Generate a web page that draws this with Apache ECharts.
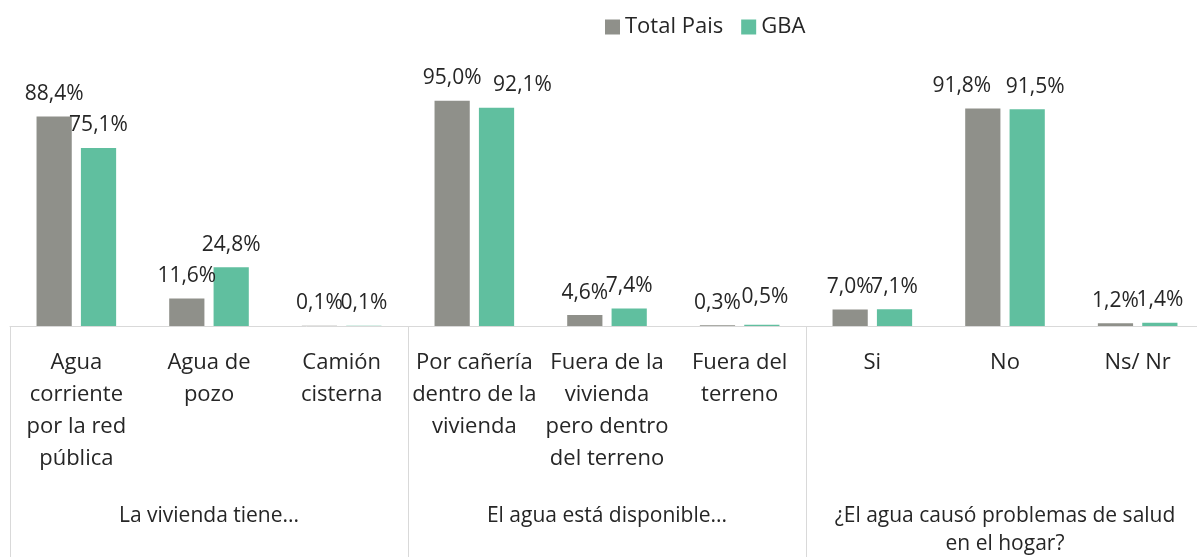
<!DOCTYPE html>
<html>
<head>
<meta charset="utf-8">
<script src="https://cdn.jsdelivr.net/npm/echarts@6/dist/echarts.min.js"></script>
<style>
  html, body { margin: 0; padding: 0; background: #fff; }
  #chart { width: 1197px; height: 557px; }
</style>
</head>
<body>
<div id="chart"></div>
<script>
// categories (sub level) and groups (top level)
var categories = [
  'Agua\ncorriente\npor la red\npública',
  'Agua de\npozo',
  'Camión\ncisterna',
  'Por cañería\ndentro de la\nvivienda',
  'Fuera de la\nvivienda\npero dentro\ndel terreno',
  'Fuera del\nterreno',
  'Si',
  'No',
  'Ns/ Nr'
];
var groups = [
  'La vivienda tiene...',
  'El agua está disponible...',
  '¿El agua causó problemas de salud\nen el hogar?'
];
var totalPais = [88.4, 11.6, 0.1, 95.0, 4.6, 0.3, 7.0, 91.8, 1.2];
var gba = [75.1, 24.8, 0.1, 92.1, 7.4, 0.5, 7.1, 91.5, 1.4];

var FONT = "'Open Sans', 'DejaVu Sans', sans-serif";
var TXT = '#262626';
var LINE = '#d9d9d9';

// labels that were nudged sideways in the original to avoid overlap
var totalLabelShift = { 7: [-21, 0] };
var gbaLabelShift = { 3: [26, 0], 5: [3, -5], 7: [8, 0] };

function pct(p) {
  return p.value.toFixed(1).replace('.', ',') + '%';
}

function withShift(values, shifts) {
  return values.map(function (v, i) {
    if (shifts[i]) return { value: v, label: { offset: shifts[i] } };
    return v;
  });
}

var chart = echarts.init(document.getElementById('chart'));

var barLabel = {
  show: true,
  position: 'top',
  distance: 12,
  fontFamily: FONT,
  fontSize: 21,
  color: TXT,
  formatter: pct
};

var option = {
  animation: false,
  textStyle: { fontFamily: FONT },
  color: ['#8f908a', '#60bf9f'],
  legend: {
    left: 600,
    top: 11,
    icon: 'rect',
    itemWidth: 15,
    itemHeight: 15,
    itemGap: 18,
    textStyle: { fontFamily: FONT, fontSize: 22, color: TXT },
    data: ['Total Pais', 'GBA']
  },
  grid: {
    left: 10, width: 1194, top: 89, bottom: 231,
    containLabel: false, outerBoundsMode: 'none'
  },
  xAxis: [
    {
      type: 'category',
      data: categories,
      position: 'bottom',
      axisLine: { show: true, lineStyle: { color: LINE, width: 1 } },
      axisTick: { show: false },
      axisLabel: {
        interval: 0,
        margin: 21,
        fontFamily: FONT,
        fontSize: 22,
        lineHeight: 32,
        color: TXT,
        align: 'center'
      }
    },
    {
      type: 'category',
      data: groups,
      position: 'bottom',
      axisLine: { show: false },
      axisTick: { show: true, length: 231, interval: 0, lineStyle: { color: LINE, width: 1 } },
      axisLabel: {
        interval: 0,
        margin: 176,
        fontFamily: FONT,
        fontSize: 21,
        lineHeight: 28,
        color: TXT
      }
    }
  ],
  yAxis: {
    type: 'value',
    min: 0,
    max: 100,
    show: false
  },
  series: [
    {
      name: 'Total Pais',
      type: 'bar',
      data: withShift(totalPais, totalLabelShift),
      barGap: '26%',
      barCategoryGap: '40%',
      label: barLabel
    },
    {
      name: 'GBA',
      type: 'bar',
      data: withShift(gba, gbaLabelShift),
      barGap: '26%',
      barCategoryGap: '40%',
      label: barLabel
    }
  ]
};

chart.setOption(option);
</script>
</body>
</html>
